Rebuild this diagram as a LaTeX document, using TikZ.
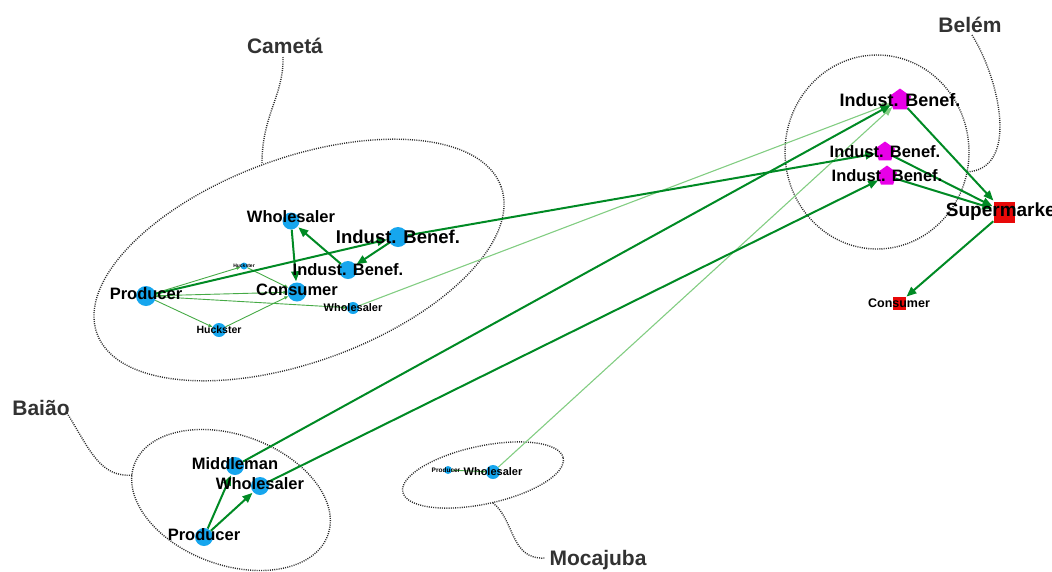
\documentclass[tikz,border=0pt]{standalone}
\usepackage{fontspec}
\setmainfont{Liberation Sans}
\usetikzlibrary{arrows.meta,shapes.geometric}
\pgfdeclarelayer{bg}
\pgfsetlayers{bg,main}

\definecolor{nodeblue}{RGB}{22,166,238}
\definecolor{nodemag}{RGB}{232,0,232}
\definecolor{nodered}{RGB}{232,8,8}
\definecolor{flowgreen}{RGB}{0,138,36}
\definecolor{weakgreen}{RGB}{70,170,70}
\definecolor{faintgreen}{RGB}{130,205,130}
\definecolor{ringgray}{RGB}{45,45,45}
\definecolor{placegray}{RGB}{50,50,50}

\tikzset{
  actor/.style={circle, fill=nodeblue, inner sep=0pt, minimum size=#1},
  ind/.style={regular polygon, regular polygon sides=5, fill=nodemag, inner sep=0pt, minimum size=#1},
  shop/.style={rectangle, fill=nodered, inner sep=0pt, minimum size=#1},
  lbl/.style={font=\bfseries\fontsize{#1}{#1}\selectfont, text=black, inner sep=0pt},
  flow/.style={draw=flowgreen, line width=2pt, shorten >=1pt, -{Triangle[length=10pt,width=8pt]}},
  weak/.style={draw=weakgreen, line width=0.9pt, -{Triangle[length=4pt,width=3pt]}},
  faint/.style={draw=faintgreen, line width=1.1pt, -{Triangle[length=9pt,width=7pt]}},
  ring/.style={draw=ringgray, line width=1.4pt, dash pattern=on 1pt off 1.2pt},
  place/.style={font=\bfseries\fontsize{21}{21}\selectfont, text=placegray, inner sep=0pt}
}

\begin{document}
\begin{tikzpicture}[x=1pt, y=-1pt]
\useasboundingbox (0,0) rectangle (1052,571);
\clip (0,0) rectangle (1052,571);

% ---- Cametá ----
\node[actor=17] (cW1) at (291,221) {};
\node[actor=20] (cIB1) at (398,237) {};
\node[actor=18] (cIB2) at (348,270) {};
\node[actor=7] (cH1) at (244,266) {};
\node[actor=19] (cC) at (297,292) {};
\node[actor=20] (cP) at (146,296) {};
\node[actor=12] (cW2) at (353,308) {};
\node[actor=14] (cH2) at (219,330) {};

% ---- Baião ----
\node[actor=18] (bM) at (235,466) {};
\node[actor=18] (bW) at (260,486) {};
\node[actor=18] (bP) at (204,537) {};

% ---- Mocajuba ----
\node[actor=8] (mP) at (448,470) {};
\node[actor=14] (mW) at (493,472) {};

% ---- Belém ----
\node[ind=23] (eIB1) at (900,100) {};
\node[ind=21] (eIB2) at (885,152) {};
\node[ind=21] (eIB3) at (887,176) {};
\node[shop=21] (eS) at (1004,212) {};
\node[shop=13] (eC) at (899,303) {};

% regions and their name tags
\begin{pgfonlayer}{bg}
  \draw[ring, rotate around={20:(299,260)}] (299,260) ellipse [x radius=215, y radius=102];
  \draw[ring] (877,152) ellipse [x radius=92, y radius=97];
  \draw[ring, rotate around={-20:(231,500)}] (231,500) ellipse [x radius=103, y radius=65];
  \draw[ring, rotate around={12:(483,475)}] (483,475) ellipse [x radius=82, y radius=29];

  \coordinate (tC0) at (283,57);
  \coordinate (tC1) at (262,163);
  \draw[ring] (tC0) .. controls (284,95) and (262,115) .. (tC1);
  \coordinate (tE0) at (972,35);
  \coordinate (tE1) at (966,172);
  \draw[ring] (tE0) .. controls (1000,80) and (1020,170) .. (tE1);
  \coordinate (tB0) at (67,413);
  \coordinate (tB1) at (133,475);
  \draw[ring] (tB0) .. controls (90,450) and (100,478) .. (tB1);
  \coordinate (tM0) at (493,503);
  \coordinate (tM1) at (545,558);
  \draw[ring] (tM0) .. controls (515,520) and (510,560) .. (tM1);

  % flows inside Cametá
  \draw[weak] (cP) -- (cH1);
  \draw[weak] (cP) -- (cC);
  \draw[weak] (cP) -- (cW2);
  \draw[weak] (cP) -- (cH2);
  \draw[weak] (cH2) -- (cC);
  \draw[weak] (cH1) -- (cC);
  \draw[flow] (cW1) -- (cC);
  \draw[flow] (cIB2) -- (cW1);
  \draw[flow] (cIB1) -- (cIB2);
  \draw[flow] (cP) -- (cIB1);

  % flows inside Baião and Mocajuba
  \draw[flow] (bP) -- (bM);
  \draw[flow] (bP) -- (bW);
  \draw[weak] (mP) -- (mW);

  % flows towards Belém
  \draw[faint] (cW2) -- (eIB1);
  \draw[faint] (mW) -- (eIB1);
  \draw[flow] (cIB1) -- (eIB2);
  \draw[flow] (bM) -- (eIB1);
  \draw[flow] (bW) -- (eIB3);

  % flows inside Belém
  \draw[flow] (eIB1) -- (eS);
  \draw[flow] (eIB2) -- (eS);
  \draw[flow] (eIB3) -- (eS);
  \draw[flow] (eS) -- (eC);
\end{pgfonlayer}

% node labels
\node[lbl=16.5] (lcW1) at (cW1.center) [yshift=4pt] {Wholesaler};
\node[lbl=18.5] (lcIB1) at (cIB1.center) {Indust. Benef.};
\node[lbl=16.5] (lcIB2) at (cIB2.center) {Indust. Benef.};
\node[lbl=5] (lcH1) at (cH1.center) {Huckster};
\node[lbl=16.5] (lcC) at (cC.center) [yshift=2pt] {Consumer};
\node[lbl=16.5] (lcP) at (cP.center) [yshift=2pt] {Producer};
\node[lbl=11] (lcW2) at (cW2.center) {Wholesaler};
\node[lbl=10.5] (lcH2) at (cH2.center) {Huckster};

\node[lbl=16.5] (lbM) at (bM.center) [yshift=2pt] {Middleman};
\node[lbl=16.5] (lbW) at (bW.center) [yshift=2pt] {Wholesaler};
\node[lbl=16.5] (lbP) at (bP.center) [yshift=2pt] {Producer};

\node[lbl=6.5] (lmP) at (mP.center) [xshift=-2pt] {Producer};
\node[lbl=11] (lmW) at (mW.center) {Wholesaler};

\node[lbl=18] (leIB1) at (eIB1.center) {Indust. Benef.};
\node[lbl=16.5] (leIB2) at (eIB2.center) {Indust. Benef.};
\node[lbl=16.5] (leIB3) at (eIB3.center) {Indust. Benef.};
\node[lbl=19] (leS) at (eS.center) {Supermarket};
\node[lbl=12.5] (leC) at (eC.center) {Consumer};

% region names
\node[place] (nCam) at (285,46) {Cametá};
\node[place] (nBel) at (970,25) {Belém};
\node[place] (nBai) at (41,408) {Baião};
\node[place] (nMoc) at (598,560) {Mocajuba};
\end{tikzpicture}
\end{document}
